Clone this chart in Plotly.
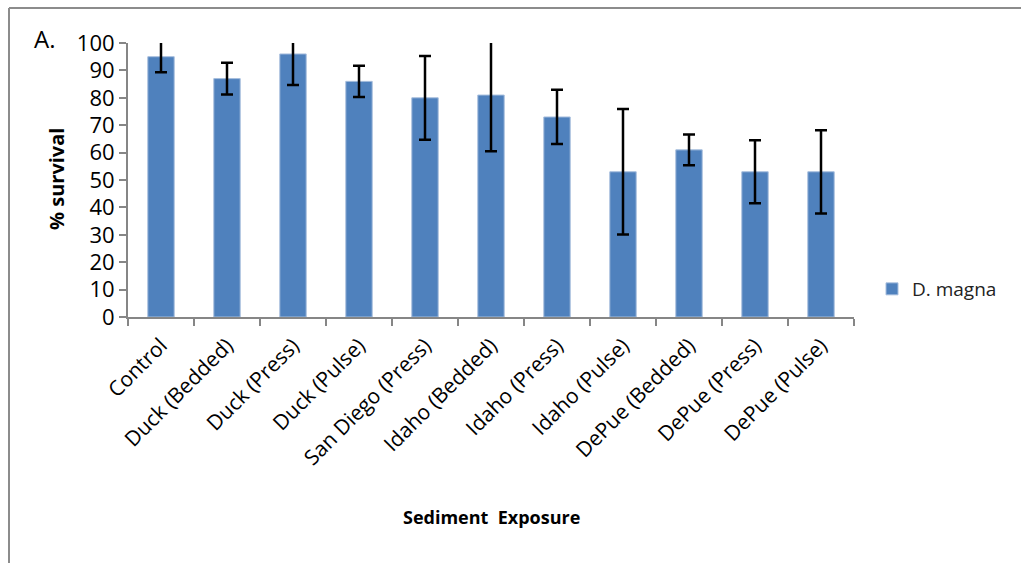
import plotly.graph_objects as go

# Survival data per sediment exposure
categories = [
    "Control", "Duck (Bedded)", "Duck (Press)", "Duck (Pulse)",
    "San Diego (Press)", "Idaho (Bedded)", "Idaho (Press)", "Idaho (Pulse)",
    "DePue (Bedded)", "DePue (Press)", "DePue (Pulse)",
]
survival = [95, 87, 96, 86, 80, 81, 73, 53, 61, 53, 53]
survival_err = [5.7, 5.8, 11.3, 5.7, 15.3, 20.5, 9.9, 22.9, 5.6, 11.5, 15.2]
y_ticks = [0, 10, 20, 30, 40, 50, 60, 70, 80, 90, 100]

W, H = 1021, 563
L, R, T, B = 128, 167, 43, 246
FONT = "Open Sans"
AXIS_GREY = "#868686"


def px_to_paper(x=None, y=None):
    """Convert page pixels to paper coordinates of the plot area."""
    pw, ph = W - L - R, H - T - B
    out = []
    if x is not None:
        out.append((x - L) / pw)
    if y is not None:
        out.append((H - B - y) / ph)
    return out if len(out) > 1 else out[0]


fig = go.Figure()
fig.add_trace(go.Bar(
    x=categories,
    y=survival,
    name="D. magna",
    marker=dict(color="#4F81BD", line=dict(color="#A7BEDD", width=1)),
    error_y=dict(type="data", array=survival_err, visible=True,
                 color="black", thickness=2.5, width=6),
))

# Outer frame (top and left edges)
fx0, fy0 = px_to_paper(x=9, y=8)
fx1, fy1 = px_to_paper(x=W + 5, y=H + 5)
frame_line = dict(color="#8C8C8C", width=2)
fig.add_shape(type="line", xref="paper", yref="paper",
              x0=fx0, y0=fy0, x1=fx1, y1=fy0, line=frame_line)
fig.add_shape(type="line", xref="paper", yref="paper",
              x0=fx0, y0=fy0, x1=fx0, y1=fy1, line=frame_line)

ax_, ay_ = px_to_paper(x=44, y=38)
fig.add_annotation(text="A.", xref="paper", yref="paper", x=ax_, y=ay_,
                   xanchor="center", yanchor="middle", showarrow=False,
                   font=dict(family=FONT, size=24, color="black"))

tx, ty = px_to_paper(x=491, y=517)
fig.add_annotation(text="<b>Sediment  Exposure</b>", xref="paper", yref="paper",
                   x=tx, y=ty, xanchor="center", yanchor="middle", showarrow=False,
                   font=dict(family=FONT, size=18, color="black"))

yx, yy = px_to_paper(x=56, y=179)
fig.add_annotation(text="<b>% survival</b>", xref="paper", yref="paper",
                   x=yx, y=yy, xanchor="center", yanchor="middle", showarrow=False,
                   textangle=-90, font=dict(family=FONT, size=20, color="black"))

lx, ly = px_to_paper(x=872, y=289)
fig.update_layout(
    width=W, height=H,
    margin=dict(l=L, r=R, t=T, b=B, autoexpand=False),
    paper_bgcolor="white", plot_bgcolor="white",
    font=dict(family=FONT, color="black"),
    bargap=0.6,
    showlegend=True,
    legend=dict(x=lx, y=ly, xanchor="left", yanchor="middle",
                font=dict(family=FONT, size=19, color="#222"),
                bgcolor="rgba(0,0,0,0)", itemwidth=30),
    xaxis=dict(
        showline=True, linecolor=AXIS_GREY, linewidth=2,
        ticks="outside", tickcolor=AXIS_GREY, ticklen=7, tickwidth=2,
        tickson="boundaries", tickangle=-45, ticklabelstandoff=6,
        tickfont=dict(family=FONT, size=21, color="black"),
        showgrid=False, zeroline=False,
    ),
    yaxis=dict(
        range=[0, 100], tickvals=y_ticks,
        showline=True, linecolor=AXIS_GREY, linewidth=2,
        ticks="outside", tickcolor=AXIS_GREY, ticklen=7, tickwidth=2,
        tickfont=dict(family=FONT, size=22, color="black"),
        showgrid=False, zeroline=False,
    ),
)

fig.write_html("out.html")
